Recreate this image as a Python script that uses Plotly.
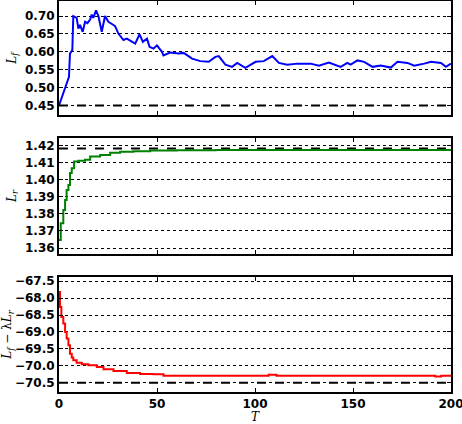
import plotly.graph_objects as go

# L_f (blue)
t_f = [0, 2.2, 3.9, 5.1, 5.3, 5.6, 6.8, 7.3, 9.0, 9.9, 10.7, 12.1, 13.3, 14.5, 15.9,
       16.7, 17.5, 18.9, 20.1, 21.8, 23.5, 25.2, 27.8, 28.6, 30.3, 32.9, 34.6, 37.2,
       38.9, 41.1, 42.8, 44.9, 46.2, 48.2, 50.0, 52.5, 53.3, 56.7, 61.0, 63.6, 67.9,
       72.1, 76.4, 79.8, 81.5, 84.9, 88.3, 90.9, 95.1, 100.3, 104.5, 108.8, 112.2,
       116.4, 121.6, 128.4, 132.6, 137.7, 143.7, 147.1, 148.8, 152.3, 155.7, 160.0,
       164.2, 169.3, 172.7, 177.8, 181.2, 186.3, 189.8, 194.9, 197.4, 200]
l_f = [0.450, 0.484, 0.515, 0.530, 0.558, 0.595, 0.605, 0.700, 0.695, 0.665, 0.675,
       0.656, 0.684, 0.680, 0.690, 0.704, 0.695, 0.716, 0.700, 0.656, 0.700, 0.684,
       0.675, 0.672, 0.651, 0.633, 0.637, 0.628, 0.623, 0.649, 0.628, 0.637, 0.614,
       0.609, 0.618, 0.600, 0.590, 0.598, 0.595, 0.597, 0.581, 0.574, 0.572, 0.586,
       0.588, 0.564, 0.558, 0.569, 0.555, 0.572, 0.574, 0.588, 0.569, 0.564, 0.567,
       0.567, 0.561, 0.570, 0.558, 0.569, 0.564, 0.576, 0.572, 0.558, 0.562, 0.556,
       0.572, 0.569, 0.561, 0.567, 0.572, 0.569, 0.558, 0.567]

# L_r (green)
t_r = [0, 0.9, 2.2, 3.1, 3.9, 4.8, 5.6, 6.5, 7.7, 9.9, 13.3, 15.9, 21.0, 26.1, 31.2,
       38.0, 46.5, 60, 80, 100, 120, 140, 160, 175, 190, 200]
l_r = [1.3647, 1.3745, 1.3824, 1.3882, 1.3941, 1.3970, 1.4040, 1.4069, 1.4108,
       1.4112, 1.4118, 1.4137, 1.4147, 1.4160, 1.4165, 1.4169, 1.4173, 1.4174,
       1.4175, 1.4175, 1.4176, 1.4175, 1.4175, 1.4176, 1.4175, 1.4175]

# L_f - lambda L_r (red)
t_d = [0, 0.5, 1.2, 2.2, 3.1, 3.9, 4.8, 5.6, 6.5, 7.3, 9.0, 11.6, 15.0, 19.3, 22.7,
       27.8, 34.6, 41.4, 48.2, 53.3, 80, 106, 107, 110, 111, 150, 191, 192, 194, 195, 200]
l_d = [-67.82, -68.26, -68.56, -68.75, -69.00, -69.19, -69.39, -69.64, -69.75,
       -69.83, -69.91, -69.95, -69.98, -70.03, -70.10, -70.15, -70.21, -70.24,
       -70.25, -70.29, -70.29, -70.29, -70.26, -70.26, -70.29, -70.29, -70.29,
       -70.31, -70.31, -70.29, -70.29]

# dashed reference levels
ref_f = 0.45
ref_r = 1.4185
ref_d = -70.5
t_span = [0, 200]

fig = go.Figure()

fig.add_trace(go.Scatter(x=t_f, y=l_f, mode='lines', line=dict(color='#0000ff', width=2),
                         xaxis='x', yaxis='y'))
fig.add_trace(go.Scatter(x=t_span, y=[ref_f, ref_f], mode='lines',
                         line=dict(color='black', width=2, dash='dash'), xaxis='x', yaxis='y'))

fig.add_trace(go.Scatter(x=t_span, y=[ref_r, ref_r], mode='lines',
                         line=dict(color='black', width=2, dash='dash'), xaxis='x2', yaxis='y2'))
fig.add_trace(go.Scatter(x=t_r, y=l_r, mode='lines', line=dict(color='#008000', width=2),
                         line_shape='hv', xaxis='x2', yaxis='y2'))

fig.add_trace(go.Scatter(x=t_span, y=[ref_d, ref_d], mode='lines',
                         line=dict(color='black', width=2, dash='dash'), xaxis='x3', yaxis='y3'))
fig.add_trace(go.Scatter(x=t_d, y=l_d, mode='lines', line=dict(color='#ff0000', width=2),
                         line_shape='hv', xaxis='x3', yaxis='y3'))

tick_font = dict(family='DejaVu Sans', size=12, color='black', weight='bold')
title_font = dict(family='DejaVu Serif', size=12, color='black')

xcommon = dict(range=[0, 200], showgrid=False, zeroline=False, showline=True, mirror='ticks',
               linecolor='black', linewidth=2, ticks='inside', ticklen=4, tickcolor='black',
               tickvals=[0, 50, 100, 150, 200], tickfont=tick_font, automargin=False,
               ticklabeloverflow='allow')
ycommon = dict(showgrid=True, gridcolor='black', griddash='dot', gridwidth=1, zeroline=False,
               showline=True, mirror='ticks', linecolor='black', linewidth=2, ticks='inside',
               ticklen=4, tickcolor='black', tickfont=tick_font, title_font=title_font,
               title_standoff=6, automargin=False)

fig.update_layout(
    width=462, height=424,
    margin=dict(l=59, r=11, t=1, b=32),
    paper_bgcolor='white', plot_bgcolor='white',
    showlegend=False,
    xaxis=dict(xcommon, domain=[0, 1], anchor='y', showticklabels=False),
    xaxis2=dict(xcommon, domain=[0, 1], anchor='y2', showticklabels=False),
    xaxis3=dict(xcommon, domain=[0, 1], anchor='y3'),
    yaxis=dict(ycommon, domain=[0.708, 1.0], range=[0.423, 0.742],
               tickvals=[0.45, 0.50, 0.55, 0.60, 0.65, 0.70], tickformat='.2f',
               title=dict(text='<i>L<sub>f</sub></i>')),
    yaxis2=dict(ycommon, domain=[0.353, 0.650], range=[1.3565, 1.4247],
                tickvals=[1.36, 1.37, 1.38, 1.39, 1.40, 1.41, 1.42], tickformat='.2f',
                title=dict(text='<i>L<sub>r</sub></i>')),
    yaxis3=dict(ycommon, domain=[0.0, 0.294], range=[-70.77, -67.38],
                tickvals=[-70.5, -70.0, -69.5, -69.0, -68.5, -68.0, -67.5], tickformat='.1f',
                title=dict(text='<i>L<sub>f</sub></i> \u2212 \u03bb<i>L<sub>r</sub></i>')),
    annotations=[dict(text='<i>T</i>', x=0.5, y=-0.064, xref='paper', yref='paper',
                      showarrow=False, font=title_font, xanchor='center', yanchor='middle')],
)

# page margin off so the figure sits at the window's corner
fig.write_html("out.html", config={'displayModeBar': False},
               post_script="document.body.style.margin='0';")
